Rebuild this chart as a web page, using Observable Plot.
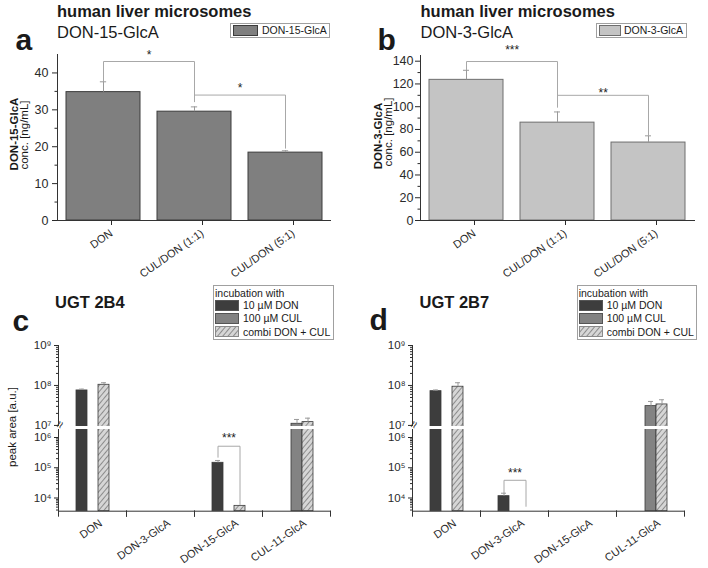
<!DOCTYPE html>
<html><head><meta charset="utf-8">
<script src="https://cdn.jsdelivr.net/npm/d3@7"></script>
<script src="https://cdn.jsdelivr.net/npm/@observablehq/plot@0.6"></script>
<style>
html,body{margin:0;padding:0;background:#fff;}
#root{position:relative;width:708px;height:568px;overflow:hidden;font-family:"Liberation Sans",Arial,sans-serif;color:#1a1a1a;background:#fff;}
.abs{position:absolute;white-space:nowrap;line-height:1;}
.plot{position:absolute;}
.plot svg{overflow:visible;}
</style></head><body>
<svg width="0" height="0" style="position:absolute">
  <defs>
    <pattern id="hatch" patternUnits="userSpaceOnUse" width="4" height="4" patternTransform="rotate(40)">
      <rect width="4" height="4" fill="#d6d6d6"></rect>
      <line x1="0.5" y1="0" x2="0.5" y2="4" stroke="#8c8c8c" stroke-width="1"></line>
    </pattern>
  </defs>
</svg>
<div id="root"></div>
<script>
const FONT = '"Liberation Sans", Arial, sans-serif';

// ---------- Panels a & b (human liver microsomes) ----------
const catsAB = ["DON", "CUL/DON (1:1)", "CUL/DON (5:1)"];
const don15Mean = [34.8, 29.5, 18.4];
const don15Upper = [37.6, 30.8, 18.9];
const don3Mean = [123.6, 86.0, 68.5];
const don3Upper = [132.0, 95.4, 74.4];
const ticksA = [0, 10, 20, 30, 40];
const minorA = [5, 15, 25, 35];
const ticksB = [0, 20, 40, 60, 80, 100, 120, 140];
const minorB = [10, 30, 50, 70, 90, 110, 130];
const sigA = [
  {from: "DON", to: "CUL/DON (1:1)", start: 37.9, level: 43.1, end: 32.2, label: "*", labelY: 44.8},
  {from: "CUL/DON (1:1)", to: "CUL/DON (5:1)", start: 32.5, level: 34.0, end: 19.6, label: "*", labelY: 36.0}
];
const sigB = [
  {from: "DON", to: "CUL/DON (1:1)", start: 132.5, level: 139.7, end: 100.2, label: "***", labelY: 149.4},
  {from: "CUL/DON (1:1)", to: "CUL/DON (5:1)", start: 99.5, level: 110.0, end: 74.7, label: "**", labelY: 112.0}
];

// ---------- Panels c & d (UGT 2B4 / UGT 2B7), log scale ----------
const catsCD = ["DON", "DON-3-GlcA", "DON-15-GlcA", "CUL-11-GlcA"];
const seriesCD = ["10 µM DON", "100 µM CUL", "combi DON + CUL"];
const seriesFill = ["#3d3d3d", "#838383", "url(#hatch)"];
const c_don = [7.5e7, null, 1.46e5, null];
const c_cul = [null, null, null, 1.10e7];
const c_combi = [1.04e8, null, 5.5e3, 1.21e7];
const c_donErr = [8.1e7, null, 1.74e5, null];
const c_culErr = [null, null, null, 1.41e7];
const c_combiErr = [1.17e8, null, null, 1.52e7];
const d_don = [7.2e7, 1.15e4, null, null];
const d_cul = [null, null, null, 3.04e7];
const d_combi = [9.3e7, null, null, 3.35e7];
const d_donErr = [7.7e7, 1.44e4, null, null];
const d_culErr = [null, null, null, 3.98e7];
const d_combiErr = [1.17e8, null, null, 4.39e7];
const majorCD = [1e4, 1e5, 1e6, 1e7, 1e8, 1e9];
const sigC = [{cat: "DON-15-GlcA", start: 2.23e5, level: 5.15e5, end: 6.1e3, label: "***", labelY: 9.3e5}];
const sigD = [{cat: "DON-3-GlcA", start: 1.46e4, level: 3.85e4, end: 5.3e3, label: "***", labelY: 6.6e4}];
// broken log axis: lower part up to breakLow, upper part from breakHigh
const axisBottom = 3660, breakLow = 1.84e6, breakHigh = 9.4e6, axisTop = 1e9;

const root = document.getElementById("root");
function addText(str, x, baseline, size, weight, extra) {
  const d = document.createElement("div");
  d.className = "abs";
  d.textContent = str;
  d.style.left = x + "px";
  d.style.top = (baseline - 0.8465 * size) + "px";
  d.style.fontSize = size + "px";
  if (weight) d.style.fontWeight = weight;
  if (extra) Object.assign(d.style, extra);
  root.appendChild(d);
  return d;
}
function addRotText(str, cx, cy, size, weight) {
  const d = document.createElement("div");
  d.className = "abs";
  d.textContent = str;
  d.style.left = cx + "px";
  d.style.top = cy + "px";
  d.style.fontSize = size + "px";
  if (weight) d.style.fontWeight = weight;
  d.style.transform = "translate(-50%,-50%) rotate(-90deg)";
  root.appendChild(d);
}
function addBox(x, y, w, h, fill, stroke) {
  const d = document.createElement("div");
  d.style.position = "absolute";
  d.style.left = x + "px"; d.style.top = y + "px";
  d.style.width = w + "px"; d.style.height = h + "px";
  d.style.boxSizing = "border-box";
  d.style.border = "1px solid " + stroke;
  d.style.background = fill;
  root.appendChild(d);
  return d;
}
function addSwatch(x, y, w, h, fill, stroke) {
  const ns = "http://www.w3.org/2000/svg";
  const s = document.createElementNS(ns, "svg");
  s.setAttribute("width", w); s.setAttribute("height", h);
  s.style.position = "absolute"; s.style.left = x + "px"; s.style.top = y + "px";
  const r = document.createElementNS(ns, "rect");
  r.setAttribute("x", 0.5); r.setAttribute("y", 0.5);
  r.setAttribute("width", w - 1); r.setAttribute("height", h - 1);
  r.setAttribute("fill", fill); r.setAttribute("stroke", stroke);
  s.appendChild(r);
  root.appendChild(s);
}
function place(svg, x, y) {
  const d = document.createElement("div");
  d.className = "plot";
  d.style.left = x + "px"; d.style.top = y + "px";
  d.appendChild(svg);
  root.appendChild(d);
}

function barPanel({cats, mean, upper, ticks, minor, ymax, fill, stroke, sig, marginLeft, marginRight, marginTop, tickPadding}) {
  const data = cats.map((c, i) => ({cat: c, value: mean[i], err: upper[i]}));
  const pts = sig.flatMap((s, k) => [
    {id: k, x: s.from, y: s.start}, {id: k, x: s.from, y: s.level},
    {id: k, x: s.to, y: s.level}, {id: k, x: s.to, y: s.end}]);
  const step = (354 - marginLeft - marginRight) / cats.length;
  const bw = step * (1 - 0.19);
  return Plot.plot({
    width: 354, height: 290, marginLeft, marginRight, marginTop, marginBottom: 70,
    x: {domain: cats, paddingInner: 0.19, paddingOuter: 0.095, axis: null},
    y: {domain: [0, ymax], axis: null},
    style: {fontFamily: FONT, color: "#2a2a2a", background: "transparent"},
    marks: [
      Plot.barY(data, {x: "cat", y: "value", fill, stroke, strokeWidth: 1}),
      Plot.ruleX(data, {x: "cat", y1: "value", y2: "err", stroke: "#9a9a9a"}),
      Plot.tickY(data, {x: "cat", y: "err", stroke: "#9a9a9a", insetLeft: (bw - 6) / 2, insetRight: (bw - 6) / 2}),
      Plot.line(pts, {x: "x", y: "y", z: "id", stroke: "#a8a8a8", strokeWidth: 1}),
      Plot.text(sig, {x: "from", y: "labelY", text: "label", dx: step / 2, fontSize: 12, fill: "#222"}),
      Plot.frame({anchor: "left", stroke: "#333"}),
      Plot.frame({anchor: "bottom", stroke: "#333"}),
      Plot.axisY({ticks, tickSize: 5, tickPadding, fontSize: 12.5, label: null}),
      Plot.axisY({ticks: minor, tickSize: 2.5, tickFormat: () => "", label: null}),
      Plot.axisX({tickRotate: -35, tickSize: 5, tickPadding: 6.5, dx: 8, fontSize: 11, label: null})
    ]
  });
}

const supDigits = {"0": "⁰", "1": "¹", "2": "²", "3": "³", "4": "⁴", "5": "⁵", "6": "⁶", "7": "⁷", "8": "⁸", "9": "⁹"};
const fmtPow = d => "10" + String(Math.round(Math.log10(d))).split("").map(c => supDigits[c]).join("");
const minorCD = [];
for (let e = 3; e <= 8; e++) for (let m = 2; m <= 9; m++) {
  const v = m * 10 ** e;
  if ((v > axisBottom && v < breakLow) || (v > breakHigh && v < axisTop)) minorCD.push(v);
}

function logPanel({don, cul, combi, donErr, culErr, combiErr, sig}) {
  const cols = [[don, donErr], [cul, culErr], [combi, combiErr]];
  const table = [];
  catsCD.forEach((c, i) => cols.forEach(([v, e], j) => {
    if (v[i] != null) table.push({cat: c, series: seriesCD[j], value: v[i], err: e[i]});
  }));
  const errs = table.filter(d => d.err != null);
  const pts = sig.flatMap((s, k) => [
    {id: k, cat: s.cat, x: seriesCD[0], y: s.start}, {id: k, cat: s.cat, x: seriesCD[0], y: s.level},
    {id: k, cat: s.cat, x: seriesCD[2], y: s.level}, {id: k, cat: s.cat, x: seriesCD[2], y: s.end}]);
  const frameH = 220.7 - 55;
  return Plot.plot({
    width: 354, height: 278, marginLeft: 57, marginRight: 24, marginTop: 55, marginBottom: 57.3,
    fx: {domain: catsCD, padding: 0, axis: null, label: null},
    x: {domain: seriesCD, paddingInner: 0, paddingOuter: 1.45, axis: null},
    y: {type: "log", domain: [axisBottom, breakLow, breakHigh, axisTop], range: [220.7, 139, 136, 55], axis: null},
    color: {domain: seriesCD, range: seriesFill},
    style: {fontFamily: FONT, color: "#2a2a2a", background: "transparent"},
    marks: [
      // invisible marker so that every facet counts as non-empty (axis only in the first facet)
      Plot.text(catsCD, {fx: d => d, text: () => " ", frameAnchor: "top", fillOpacity: 0}),
      Plot.barY(table, {fx: "cat", x: "series", y1: axisBottom, y2: "value", fill: "series", stroke: "#3a3a3a", strokeWidth: 0.8}),
      Plot.ruleX(errs, {fx: "cat", x: "series", y1: "value", y2: "err", stroke: "#9a9a9a"}),
      Plot.tickY(errs, {fx: "cat", x: "series", y: "err", stroke: "#9a9a9a", insetLeft: 3, insetRight: 3}),
      Plot.line(pts, {fx: "cat", x: "x", y: "y", z: "id", stroke: "#a8a8a8", strokeWidth: 1}),
      Plot.text(sig, {fx: "cat", x: () => seriesCD[1], y: "labelY", text: "label", fontSize: 12, fill: "#222"}),
      Plot.frame({anchor: "bottom", stroke: "#333"}),
      Plot.frame({anchor: "left", stroke: "#333", facetAnchor: "left"}),
      Plot.frame({anchor: "left", stroke: "#333", insetTop: frameH, insetBottom: -5}),
      Plot.frame({anchor: "right", stroke: "#333", insetTop: frameH, insetBottom: -5}),
      Plot.rect([null], {y1: breakLow, y2: breakHigh, fill: "white", insetLeft: -6}),
      Plot.text([null], {text: () => "≈", frameAnchor: "left", y: Math.sqrt(breakLow * breakHigh), rotate: -65, fontSize: 13, fill: "#333", facetAnchor: "left"}),
      Plot.axisY({ticks: majorCD, tickFormat: fmtPow, tickSize: 4, tickPadding: 3, fontSize: 11.5, label: null}),
      Plot.axisY({ticks: minorCD, tickSize: 2, tickFormat: () => "", label: null}),
      Plot.axisFx({anchor: "bottom", tickRotate: -35, tickSize: 0, tickPadding: 10.8, dx: 8.5, fontSize: 11, label: null})
    ]
  });
}

// ---- panel a ----
place(barPanel({cats: catsAB, mean: don15Mean, upper: don15Upper, ticks: ticksA, minor: minorA, ymax: 45,
  fill: "#7f7f7f", stroke: "#3c3c3c", sig: sigA, marginLeft: 57, marginRight: 24, marginTop: 54, tickPadding: 4}), 0, 0);
// ---- panel b ----
place(barPanel({cats: catsAB, mean: don3Mean, upper: don3Upper, ticks: ticksB, minor: minorB, ymax: 145,
  fill: "#c4c4c4", stroke: "#6e6e6e", sig: sigB, marginLeft: 66, marginRight: 14, marginTop: 55, tickPadding: 2}), 354, 0);
// ---- panel c ----
place(logPanel({don: c_don, cul: c_cul, combi: c_combi, donErr: c_donErr, culErr: c_culErr, combiErr: c_combiErr, sig: sigC}), 0, 290);
// ---- panel d ----
place(logPanel({don: d_don, cul: d_cul, combi: d_combi, donErr: d_donErr, culErr: d_culErr, combiErr: d_combiErr, sig: sigD}), 354, 290);

// ---- titles ----
addText("human liver microsomes", 57, 16.7, 16.5, "bold");
addText("DON-15-GlcA", 57, 38.3, 16.5);
addText("a", 15.5, 50, 30, "bold");
addText("human liver microsomes", 420.5, 16.7, 16.5, "bold");
addText("DON-3-GlcA", 420.5, 38.3, 16.5);
addText("b", 377.5, 50, 30, "bold");
addText("UGT 2B4", 55, 308.3, 16.5, "bold");
addText("c", 12.5, 331.5, 30, "bold");
addText("UGT 2B7", 419.5, 308.3, 16.5, "bold");
addText("d", 369.5, 330.5, 30, "bold");

// ---- y titles ----
addRotText("DON-15-GlcA", 15, 134, 11.5, "bold");
addRotText("conc. [ng/mL]", 25, 135, 11.5);
addRotText("DON-3-GlcA", 379, 136, 11.5, "bold");
addRotText("conc. [ng/mL]", 388.5, 132, 11.5);
addRotText("peak area [a.u.]", 13, 426.5, 11.5);

// ---- legends a/b ----
addBox(230, 22.7, 100, 15.3, "#fff", "#a0a0a0");
addSwatch(233, 25, 25, 11, "#7f7f7f", "#3c3c3c");
addText("DON-15-GlcA", 262, 34.2, 10.5);
addBox(596.3, 22.7, 90.4, 15.3, "#fff", "#a0a0a0");
addSwatch(599, 25, 22, 11, "#c4c4c4", "#6e6e6e");
addText("DON-3-GlcA", 624, 34.2, 10.5);

// ---- legends c/d ----
function ugtLegend(x, w) {
  addBox(x, 285, w, 54.5, "#fff", "#a0a0a0");
  addText("incubation with", x + 2, 296.5, 10.5);
  const rowsY = [300, 313, 326.3];
  seriesCD.forEach((s, i) => {
    addSwatch(x + 2, rowsY[i], 24, 11, seriesFill[i], i === 2 ? "#8a8a8a" : "#555");
    addText(s, x + 30, rowsY[i] + 9.3, 10.5);
  });
}
ugtLegend(213, 120.5);
ugtLegend(576.7, 120.6);
</script>
</body></html>
